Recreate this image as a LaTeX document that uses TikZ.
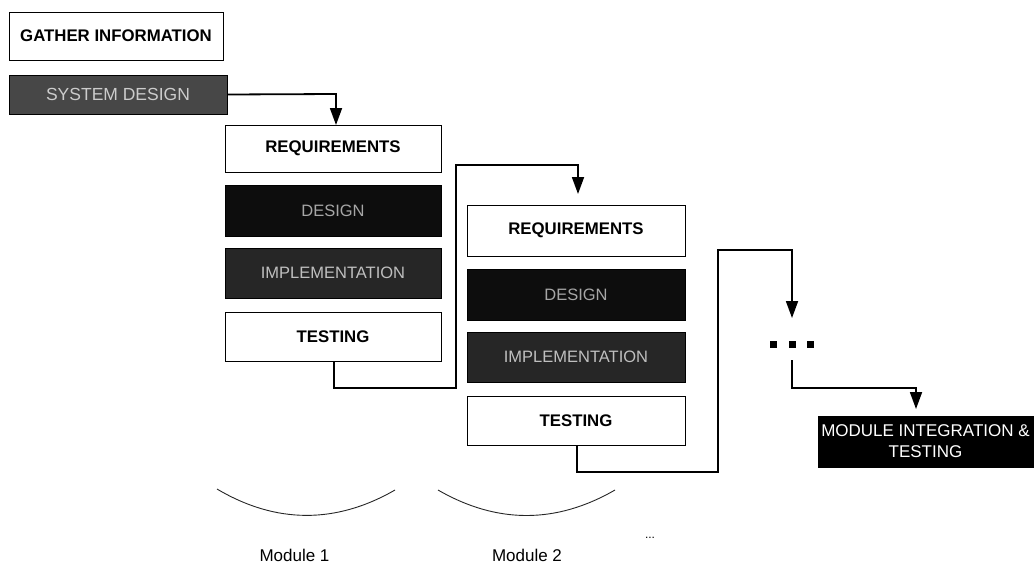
\documentclass[tikz,border=0pt]{standalone}
\usepackage{fontspec}
\setmainfont{Liberation Sans}
\usetikzlibrary{arrows.meta}
\begin{document}
\begin{tikzpicture}[x=1pt,y=-1pt,
  wbox/.style={draw=black,line width=0.9pt,fill=white,inner sep=0pt,
    font=\fontsize{16.8}{19}\selectfont\bfseries,text=black},
  dbox/.style={draw=black,line width=0.9pt,inner sep=0pt,
    font=\fontsize{16.5}{19}\selectfont,text=black!35},
  conn/.style={line width=1.8pt,draw=black},
  arr/.style={conn,-{Triangle[length=17pt,width=12pt]}},
  dotsq/.style={fill=black,minimum size=7pt,inner sep=0pt},
  modlab/.style={font=\fontsize{17}{20}\selectfont,text=black},
  arcline/.style={line width=0.9pt,draw=black!85}
]
\useasboundingbox (0,0) rectangle (1035,570);

% top boxes
\node[wbox,minimum width=214pt,minimum height=48pt] (gather) at (116,36) {GATHER INFORMATION};
\node[dbox,fill=black!72,minimum width=218pt,minimum height=39pt,font=\fontsize{17.5}{20}\selectfont,text=black!20] (sysdes) at (118,94.5) {SYSTEM DESIGN};

% module 1
\node[wbox,minimum width=216pt,minimum height=47pt] (req1) at (333,148.5) {REQUIREMENTS};
\node[dbox,fill=black!95,minimum width=216pt,minimum height=51pt] (des1) at (333,210.5) {DESIGN};
\node[dbox,fill=black!85,minimum width=216pt,minimum height=50pt,text=black!25] (imp1) at (333,273) {IMPLEMENTATION};
\node[wbox,minimum width=216pt,minimum height=49pt] (test1) at (333,336.5) {TESTING};

% module 2
\node[wbox,minimum width=218pt,minimum height=51pt] (req2) at (576,230.5) {REQUIREMENTS};
\node[dbox,fill=black!95,minimum width=218pt,minimum height=51pt] (des2) at (576,294.5) {DESIGN};
\node[dbox,fill=black!85,minimum width=218pt,minimum height=50pt,text=black!25] (imp2) at (576,357) {IMPLEMENTATION};
\node[wbox,minimum width=218pt,minimum height=49pt] (test2) at (576,420.5) {TESTING};

% integration
\node[draw=black,line width=0.9pt,fill=black,text=white,inner sep=0pt,
  minimum width=215pt,minimum height=51pt,align=center,
  font=\fontsize{17}{21}\selectfont] (mit) at (925.5,441.5) {MODULE INTEGRATION \&\\TESTING};

% dots
\node[dotsq] (d1) at (773,344) {};
\node[dotsq] (d2) at (792,344) {};
\node[dotsq] (d3) at (810,344) {};

% connector coordinates
\coordinate (a1) at (336,94);
\coordinate (a1e) at (336,125);
\coordinate (b1) at (334,388);
\coordinate (b2) at (456,388);
\coordinate (b3) at (456,165);
\coordinate (b4) at (578,165);
\coordinate (b5) at (578,194);
\coordinate (c1) at (577,472);
\coordinate (c2) at (718,472);
\coordinate (c3) at (718,250);
\coordinate (c4) at (792,250);
\coordinate (c5) at (792,318);
\coordinate (e1) at (792,360);
\coordinate (e2) at (792,388);
\coordinate (e3) at (916,388);
\coordinate (e4) at (916,409);

\draw[arr] (sysdes.east) -- (a1) -- (a1e);
\draw[arr] (test1.south -| b1) -- (b1) -- (b2) -- (b3) -- (b4) -- (b5);
\draw[arr] (test2.south -| c1) -- (c1) -- (c2) -- (c3) -- (c4) -- (c5);
\draw[arr] (e1) -- (e2) -- (e3) -- (e4);

% module arcs
\coordinate (m1l) at (217,489);
\coordinate (m1r) at (395,490);
\coordinate (m2l) at (438,490);
\coordinate (m2r) at (615,490);
\draw[arcline] (m1l) .. controls (276,524) and (336,524) .. (m1r);
\draw[arcline] (m2l) .. controls (497,524) and (556,524) .. (m2r);

\node[modlab] (mod1) at (294.5,555) {Module 1};
\node[modlab] (mod2) at (527,555) {Module 2};
\node[font=\fontsize{12}{14}\selectfont] (ell) at (650,538) {...};
\end{tikzpicture}
\end{document}
